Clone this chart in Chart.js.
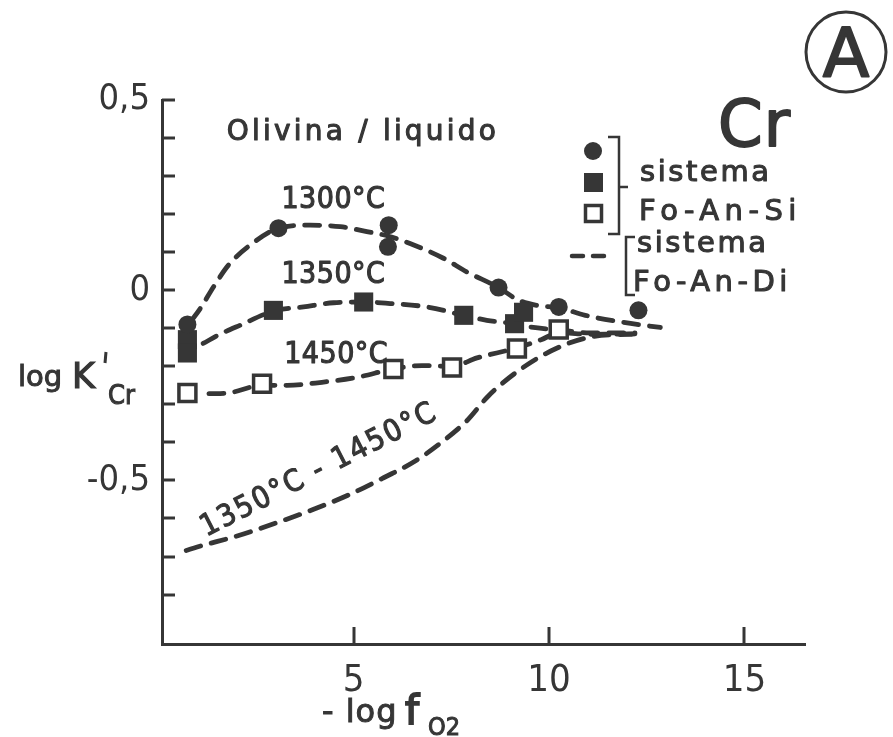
<!DOCTYPE html>
<html>
<head>
<meta charset="utf-8">
<script src="https://cdn.jsdelivr.net/npm/chart.js@4/dist/chart.umd.min.js"></script>
<style>
  html, body { margin: 0; padding: 0; background: #ffffff; }
  #wrap { width: 893px; height: 737px; }
</style>
</head>
<body>
<div id="wrap"><canvas id="c" width="893" height="737"></canvas></div>
<script>
// Cr partitioning between olivine and liquid, log K'Cr against -log fO2.

// Measured points, system Fo-An-Si
const circle1300X = [0.75, 3.08, 5.90, 5.88, 8.71, 10.25, 12.29];
const circle1300Y = [-0.09, 0.163, 0.171, 0.114, 0.007, -0.044, -0.053];
const square1350X = [0.75, 0.75, 2.95, 5.26, 7.82, 9.12, 9.35];
const square1350Y = [-0.13, -0.165, -0.053, -0.031, -0.066, -0.088, -0.058];
const open1450X = [0.75, 2.66, 6.02, 7.52, 9.18, 10.25];
const open1450Y = [-0.27, -0.246, -0.207, -0.203, -0.153, -0.103];

// Trend curves drawn through the measurements
const curve1300X = [0.85, 1.08, 1.42, 1.80, 2.36, 3.08, 3.89, 4.66, 5.34, 5.90, 6.54, 7.30, 7.90, 8.71, 9.22, 9.69, 10.25, 10.93, 11.87, 12.85];
const curve1300Y = [-0.08, -0.048, 0.009, 0.066, 0.119, 0.163, 0.171, 0.167, 0.154, 0.142, 0.119, 0.084, 0.048, 0.007, -0.026, -0.040, -0.046, -0.066, -0.084, -0.098];
const curve1350X = [1.15, 1.60, 2.10, 2.95, 3.72, 4.49, 5.26, 5.94, 6.88, 7.82, 8.41, 9.10, 9.52, 10.30, 11.05, 12.20];
const curve1350Y = [-0.14, -0.115, -0.092, -0.055, -0.044, -0.033, -0.031, -0.035, -0.044, -0.066, -0.079, -0.088, -0.097, -0.105, -0.112, -0.112];
const curve1450X = [1.30, 1.80, 2.66, 3.30, 4.19, 5.09, 6.02, 6.75, 7.52, 8.16, 9.16, 9.80, 10.25, 11.10, 12.20];
const curve1450Y = [-0.272, -0.270, -0.250, -0.250, -0.242, -0.229, -0.207, -0.198, -0.200, -0.178, -0.152, -0.130, -0.112, -0.116, -0.115];
// System Fo-An-Di, 1350-1450 °C
const curveDiX = [0.72, 1.00, 2.02, 3.04, 3.98, 4.92, 5.77, 6.58, 7.30, 7.90, 8.45, 9.31, 10.21, 11.06, 12.20];
const curveDiY = [-0.684, -0.675, -0.646, -0.611, -0.576, -0.536, -0.493, -0.449, -0.396, -0.343, -0.278, -0.205, -0.152, -0.123, -0.115];

// Axis ticks and labels
const xTickValues = [5, 10, 15];
const yLabelValues = [0.5, 0, -0.5];
const yLabelTexts = ['0,5', '0', '-0,5'];

// Labels placed on the plot (data coordinates)
const curveLabelTexts = ['Olivina / liquido', '1300°C', '1350°C', '1450°C'];
const curveLabelX = [5.2, 4.48, 4.48, 4.55];
const curveLabelY = [0.414, 0.237, 0.04, -0.172];

const INK = '#363636';
const pairs = (xs, ys) => xs.map((x, i) => ({ x: x, y: ys[i] }));

const CONDENSED = "'DejaVu Sans Condensed', 'DejaVu Sans', sans-serif";
const SANS = "'DejaVu Sans', sans-serif";

function curve(xs, ys) {
  return {
    data: pairs(xs, ys),
    showLine: true,
    borderColor: INK,
    borderWidth: 4.8,
    borderDash: [15, 11],
    borderCapStyle: 'round',
    cubicInterpolationMode: 'monotone',
    pointRadius: 0,
    order: 2,
    clip: false
  };
}

// text with letter spacing and a light outline for the heavier lettering
function spacedText(ctx, text, x, y, font, spacing, align, weight) {
  ctx.save();
  ctx.font = font;
  ctx.fillStyle = INK;
  ctx.strokeStyle = INK;
  ctx.lineWidth = weight === undefined ? 1.1 : weight;
  ctx.lineJoin = 'round';
  ctx.textBaseline = 'middle';
  ctx.textAlign = 'left';
  ctx.letterSpacing = spacing + 'px';
  const w = ctx.measureText(text).width - spacing;
  let sx = x;
  if (align === 'center') sx = x - w / 2;
  else if (align === 'right') sx = x - w;
  ctx.fillText(text, sx, y);
  if (ctx.lineWidth > 0) ctx.strokeText(text, sx, y);
  ctx.restore();
}

function plainText(ctx, text, x, y, font, weight) {
  ctx.font = font;
  ctx.fillText(text, x, y);
  ctx.lineWidth = weight;
  ctx.strokeText(text, x, y);
}

const decorations = {
  id: 'decorations',
  afterDatasetsDraw(chart) {
    const ctx = chart.ctx;
    const xs = chart.scales.x, ys = chart.scales.y;
    const area = chart.chartArea;

    // inward tick marks
    ctx.save();
    ctx.strokeStyle = INK;
    ctx.lineWidth = 3;
    ctx.lineCap = 'butt';
    ys.ticks.forEach(t => {
      if (t.value < -0.85) return;
      const py = Math.round(ys.getPixelForValue(t.value));
      ctx.beginPath();
      ctx.moveTo(area.left, py);
      ctx.lineTo(area.left + 13, py);
      ctx.stroke();
    });
    xs.ticks.forEach(t => {
      const px = Math.round(xs.getPixelForValue(t.value));
      ctx.beginPath();
      ctx.moveTo(px, area.bottom);
      ctx.lineTo(px, area.bottom - 17);
      ctx.stroke();
    });
    ctx.restore();

    // curve labels
    curveLabelTexts.forEach((txt, i) => {
      const px = xs.getPixelForValue(curveLabelX[i]);
      const py = ys.getPixelForValue(curveLabelY[i]);
      if (i === 0) spacedText(ctx, txt, px, py, '28px ' + SANS, 3.2, 'center');
      else spacedText(ctx, txt, px, py, '30px ' + CONDENSED, 0.5, 'center');
    });

    // rotated label along the Fo-An-Di curve
    ctx.save();
    const rx = xs.getPixelForValue(4.1), ry = ys.getPixelForValue(-0.475);
    ctx.translate(rx, ry);
    ctx.rotate(-27 * Math.PI / 180);
    spacedText(ctx, '1350°C - 1450°C', 0, 0, '30px ' + CONDENSED, 2.2, 'center');
    ctx.restore();

    // element symbol and panel mark
    spacedText(ctx, 'Cr', 718, 129, '64px ' + SANS, 1, 'left', 1.8);
    ctx.save();
    ctx.strokeStyle = INK;
    ctx.lineWidth = 3;
    ctx.beginPath();
    ctx.arc(846, 52, 40, 0, Math.PI * 2);
    ctx.stroke();
    ctx.restore();
    ctx.save();
    ctx.fillStyle = INK;
    ctx.strokeStyle = INK;
    ctx.lineJoin = 'round';
    ctx.textAlign = 'center';
    ctx.textBaseline = 'alphabetic';
    plainText(ctx, 'A', 846, 77, '68px ' + SANS, 2);
    ctx.restore();

    // legend: symbols with brackets
    ctx.save();
    ctx.fillStyle = INK;
    ctx.strokeStyle = INK;
    ctx.beginPath();
    ctx.arc(593, 151, 9, 0, Math.PI * 2);
    ctx.fill();
    ctx.fillRect(584, 173, 19, 19);
    ctx.fillStyle = '#ffffff';
    ctx.lineWidth = 3.5;
    ctx.fillRect(585.5, 205.5, 16, 16);
    ctx.strokeRect(585.5, 205.5, 16, 16);
    ctx.lineWidth = 2.5;
    ctx.beginPath();
    ctx.moveTo(608, 137); ctx.lineTo(619, 137); ctx.lineTo(619, 234); ctx.lineTo(608, 234);
    ctx.moveTo(619, 187); ctx.lineTo(628, 187);
    ctx.moveTo(635, 237); ctx.lineTo(626, 237); ctx.lineTo(626, 295); ctx.lineTo(635, 295);
    ctx.stroke();
    ctx.lineWidth = 4.5;
    ctx.lineCap = 'round';
    ctx.beginPath();
    ctx.moveTo(572, 256); ctx.lineTo(583, 256);
    ctx.moveTo(593, 256); ctx.lineTo(604, 256);
    ctx.stroke();
    ctx.restore();
    spacedText(ctx, 'sistema', 640, 173, '29px ' + SANS, 2.6, 'left');
    spacedText(ctx, 'Fo-An-Si', 639, 212, '29px ' + SANS, 5.5, 'left');
    spacedText(ctx, 'sistema', 637, 244, '29px ' + SANS, 2.6, 'left');
    spacedText(ctx, 'Fo-An-Di', 633, 283, '29px ' + SANS, 4.5, 'left');

    // y axis title: log K'Cr
    ctx.save();
    ctx.fillStyle = INK;
    ctx.strokeStyle = INK;
    ctx.textBaseline = 'alphabetic';
    ctx.textAlign = 'left';
    plainText(ctx, 'log', 18, 386, '29px ' + SANS, 1);
    plainText(ctx, 'K', 72, 388, '35px ' + SANS, 1.2);
    ctx.lineWidth = 3;
    ctx.beginPath();
    ctx.moveTo(106, 352); ctx.lineTo(105, 363);
    ctx.stroke();
    plainText(ctx, 'Cr', 108, 404, '27px ' + CONDENSED, 1);
    // x axis title: -log fO2
    ctx.letterSpacing = '1px';
    plainText(ctx, '- log', 322, 722, '32px ' + SANS, 1);
    ctx.letterSpacing = '0px';
    plainText(ctx, 'f', 405, 724, '40px ' + SANS, 1.8);
    plainText(ctx, 'O2', 428, 735, '25px ' + CONDENSED, 1);
    ctx.restore();
  }
};

new Chart(document.getElementById('c'), {
  type: 'scatter',
  data: {
    datasets: [
      {
        data: pairs(circle1300X, circle1300Y),
        pointStyle: 'circle', pointRadius: 9, pointBackgroundColor: INK,
        pointBorderWidth: 0, order: 0, clip: false
      },
      {
        data: pairs(square1350X, square1350Y),
        pointStyle: 'rect', pointRadius: 13.5, pointBackgroundColor: INK,
        pointBorderWidth: 0, order: 0, clip: false
      },
      {
        data: pairs(open1450X, open1450Y),
        pointStyle: 'rect', pointRadius: 12, pointBackgroundColor: '#ffffff',
        pointBorderColor: INK, pointBorderWidth: 3.5, order: 0, clip: false
      },
      curve(curve1300X, curve1300Y),
      curve(curve1350X, curve1350Y),
      curve(curve1450X, curve1450Y),
      curve(curveDiX, curveDiY)
    ]
  },
  options: {
    responsive: false,
    animation: false,
    devicePixelRatio: 1,
    layout: { padding: { top: 100, right: 88, bottom: 0, left: 0 } },
    plugins: { legend: { display: false }, tooltip: { enabled: false } },
    scales: {
      x: {
        type: 'linear',
        min: 0.1,
        max: 16.55,
        afterFit(scale) { scale.height = 93; },
        afterBuildTicks(scale) { scale.ticks = xTickValues.map(v => ({ value: v })); },
        grid: { display: false, drawTicks: false },
        border: { display: true, color: INK, width: 3 },
        ticks: {
          color: INK,
          padding: 14,
          font: { family: CONDENSED, size: 38, lineHeight: 1.2 },
          callback: v => String(v)
        }
      },
      y: {
        type: 'linear',
        min: -0.93,
        max: 0.5,
        afterFit(scale) { scale.width = 162; },
        grid: { display: false, drawTicks: false },
        border: { display: true, color: INK, width: 3 },
        ticks: {
          stepSize: 0.1,
          includeBounds: false,
          autoSkip: false,
          color: INK,
          padding: 12,
          font: { family: CONDENSED, size: 36, lineHeight: 1.2 },
          callback: v => {
            const i = yLabelValues.findIndex(l => Math.abs(l - v) < 1e-6);
            return i >= 0 ? yLabelTexts[i] : '';
          }
        }
      }
    }
  },
  plugins: [decorations]
});
</script>
</body>
</html>
